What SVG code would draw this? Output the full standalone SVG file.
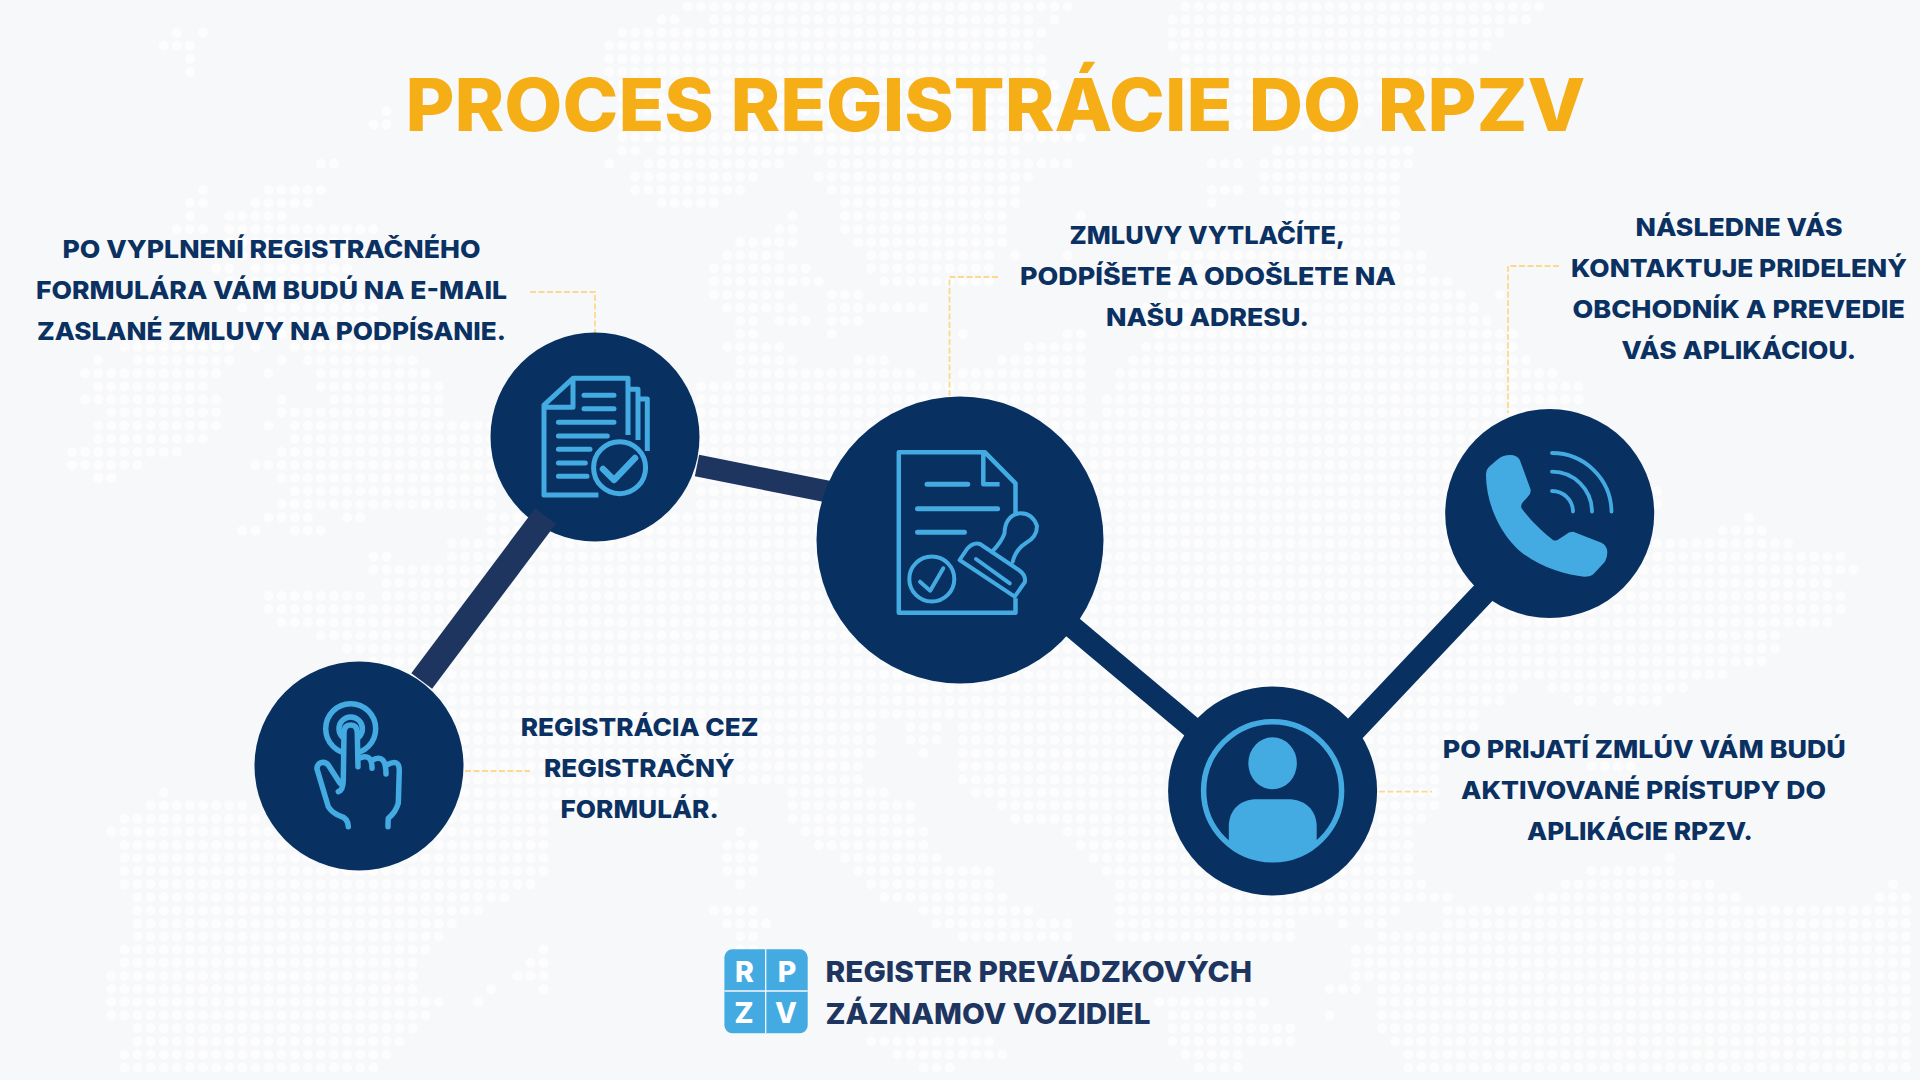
<svg xmlns="http://www.w3.org/2000/svg" width="1920" height="1080" viewBox="0 0 1920 1080">
<style>
.t{font-family:"Inter","Liberation Sans",sans-serif;font-weight:800;font-size:25px;fill:#0a3161}
.h{font-size:73px;fill:#f6ae17}
.g{font-size:29px;fill:#1e3560}
.w{font-size:28.5px;fill:#fff;text-anchor:middle}
.n{fill:#083061}
.s{fill:none;stroke:#44abe2;stroke-linecap:round;stroke-linejoin:round}
.f{fill:#44abe2}
.l{fill:none;stroke:#fbd98e;stroke-width:1.8;stroke-dasharray:6 2.5}
.c1{fill:none;stroke:#1e3560}
.c2{fill:none;stroke:#083061}
</style>
<rect width="1920" height="1080" fill="#f7f8fa"/>
<g id="map" transform="translate(6.5 6.5) scale(13.1)">
<path fill="none" stroke="#fdfdfe" stroke-width=".76" stroke-linecap="round" stroke-dasharray=".001 .999" d="
M52 0H81.1M90 0H117.1
M50 1H51.1M54 1H78.1M80 1h.1M89 1H116.1
M13 2h.1M15 2h.1M47 2H79.1M89 2H114.1
M12 3H14.1M46 3H78.1M89 3H113.1
M14 4h.1M46 4H79.1M90 4H112.1
M14 5h.1M46 5H79.1M90 5H110.1
M46 6H80.1M90 6H108.1
M47 7H80.1M91 7H106.1
M29 8h.1M47 8H81.1M92 8H104.1
M28 9H29.1M47 9H81.1M94 9H103.1
M47 10H82.1M100 10H102.1
M47 11H48.1M50 11H60.1M62 11H77.1M97 11H107.1
M24 12H25.1M46 12h.1M49 12H59.1M63 12H81.1M92 12H94.1M96 12H107.1
M48 13H57.1M62 13H78.1M96 13H106.1
M15 14h.1M20 14H24.1M48 14H56.1M63 14H77.1M92 14H94.1M96 14H106.1
M14 15H15.1M19 15H23.1M50 15H54.1M64 15H77.1M92 15h.1M98 15H106.1
M14 16h.1M17 16H21.1M60 16h.1M64 16H76.1M82 16h.1M98 16H106.1
M13 17H15.1M17 17H28.1M59 17H60.1M64 17H76.1M82 17h.1M97 17H106.1
M17 18H26.1M56 18H60.1M65 18H76.1M95 18H106.1
M18 19H26.1M55 19H59.1M66 19H75.1M77 19h.1M81 19h.1M89 19H108.1
M16 20H17.1M19 20H26.1M54 20H61.1M66 20H75.1M89 20H108.1
M17 21H26.1M54 21H62.1M67 21H75.1M89 21H110.1
M18 22H27.1M54 22H59.1M63 22H65.1M89 22H111.1M114 22h.1
M18 23h.1M20 23H28.1M55 23H60.1M63 23H70.1M87 23H112.1
M20 24H28.1M56 24H57.1M59 24H61.1M63 24H65.1M87 24H113.1
M13 25H17.1M21 25H29.1M56 25H57.1M63 25h.1M73 25h.1M81 25H82.1M88 25H115.1
M9 26H17.1M19 26h.1M22 26H29.1M55 26H59.1M78 26H82.1M87 26H115.1
M7 27h.1M10 27H17.1M21 27h.1M23 27H31.1M56 27H60.1M65 27H67.1M76 27H82.1M86 27H116.1
M6 28H16.1M20 28h.1M24 28H32.1M56 28H69.1M73 28H82.1M85 28H118.1
M7 29H15.1M24 29H33.1M53 29H82.1M85 29H120.1
M6 30H16.1M21 30h.1M25 30H33.1M53 30H82.1M84 30H120.1
M8 31H16.1M21 31H33.1M53 31H82.1M84 31H119.1
M7 32H16.1M20 32h.1M22 32H37.1M53 32H120.1
M7 33H15.1M22 33H37.1M53 33H121.1
M5 34H13.1M21 34H37.1M53 34H121.1
M5 35H10.1M19 35H37.1M53 35H121.1
M7 36H8.1M21 36H37.1M53 36H122.1
M22 37H37.1M53 37H126.1
M21 38H37.1M53 38H126.1
M20 39H23.1M26 39H27.1M37 39H122.1M133 39h.1
M18 40H19.1M22 40H24.1M37 40H122.1M131 40H134.1
M34 41H136.1
M28 42H29.1M34 42H140.1
M28 43H141.1
M29 44H139.1
M20 45H27.1M29 45H140.1
M20 46H140.1
M21 47H139.1
M24 48H135.1
M26 49H135.1
M28 50H134.1
M30 51H131.1
M33 52H115.1M118 52H128.1
M34 53H114.1M120 53H121.1M123 53H126.1
M34 54H112.1
M34 55H66.1M69 55H71.1M73 55H112.1
M34 56H66.1M69 56H71.1M73 56H111.1
M34 57H66.1M70 57h.1M73 57H110.1
M34 58H65.1M73 58H109.1M121 58H124.1
M34 59H65.1M73 59H109.1
M12 60h.1M34 60H54.1M60 60H67.1M74 60H109.1
M11 61H18.1M34 61H54.1M60 61H69.1M76 61H109.1
M9 62H19.1M34 62H41.1M60 62H69.1M77 62H108.1
M8 63H41.1M56 63h.1M61 63H70.1M81 63H107.1
M9 64H41.1M55 64H57.1M62 64H70.1M82 64H107.1
M9 65H41.1M55 65H57.1M64 65H71.1M83 65H107.1M127 65h.1
M9 66H41.1M55 66H57.1M65 66H75.1M84 66H107.1M121 66H127.1
M9 67H40.1M56 67h.1M66 67H75.1M85 67H108.1M119 67H130.1M144 67h.1
M10 68H38.1M67 68H76.1M85 68H110.1M117 68H132.1M143 68H145.1
M10 69H36.1M54 69H57.1M70 69H78.1M85 69H106.1M110 69H145.1
M10 70H34.1M55 70H58.1M71 70H81.1M85 70H98.1M102 70h.1M104 70H105.1M110 70H145.1
M10 71H33.1M56 71H57.1M73 71H81.1M85 71H98.1M105 71H145.1
M9 72H32.1M41 72h.1M56 72H57.1M103 72H145.1
M9 73H31.1M40 73H41.1M103 73H145.1
M8 74H31.1M39 74H41.1M103 74H145.1
M8 75H31.1M37 75h.1M41 75h.1M101 75H103.1M105 75H145.1
M8 76H33.1M36 76h.1M88 76H96.1M105 76H145.1
M8 77H32.1M89 77H95.1M101 77h.1M105 77H145.1
M10 78H31.1M89 78H98.1M105 78H145.1
M10 79H30.1M66 79H75.1M89 79H98.1M106 79H145.1
M9 80H29.1M68 80H76.1M90 80H94.1M107 80H145.1
M9 81H28.1M70 81H72.1M91 81H94.1M107 81H145.1"/>
</g>
<g id="leaders">
<path class="l" d="M530 292H595V333"/>
<path class="l" d="M998 277H949.5V396"/>
<path class="l" d="M1559 266H1508V413"/>
<path class="l" d="M465 771H530"/>
<path class="l" d="M1379 791.7H1432"/>
</g>
<g id="node-docs">
<circle class="n" cx="595" cy="437" r="104.5"/>
<g class="s" stroke-width="5">
<path d="M598.4 495H544V405L573 378.3H628V435M573 378.3V407.3H544M629 389.3H638V440M639 399H647.3V451" stroke-linecap="butt"/>
<path d="M584 395.3H614M584 408.7H614M558.4 422.3H614M558.4 436H607.3M558.4 449.3H590M558.4 463H585.3M558.4 476.3H587"/>
</g>
<circle cx="619.6" cy="467.7" r="26" fill="#083061" stroke="#44abe2" stroke-width="5"/>
<path class="s" stroke-width="6.5" stroke-linecap="butt" stroke-linejoin="miter" d="M603 469L614 480L635 458"/>
</g>
<g id="connectors">
<path class="c1" stroke-width="26" d="M545.5 516L421.7 681"/>
<path class="c1" stroke-width="22" d="M697 465.5L830 492"/>
<path class="c2" stroke-width="22" d="M1070 625L1195 730"/>
<path class="c2" stroke-width="24" d="M1350 734L1490 586"/>
</g>
<g id="node-hand">
<circle class="n" cx="359" cy="766" r="104.5"/>
<g class="s" stroke-width="5.5">
<circle cx="350.7" cy="728.7" r="25"/>
<circle cx="350.7" cy="728.7" r="11.7"/>
<path fill="#083061" d="M338.3 791.7Q343.3 790 343.3 780L344 733Q344 725 350.7 725Q357.3 725 357.3 733L358 766.7L358 790Z" stroke="none"/>
<path d="M338.3 791.7Q343.3 790 343.3 780L344 733Q344 725 350.7 725Q357.3 725 357.3 733L358 766.7M360 758Q372 753 372 768.3M372.7 760Q386 753 386 774M386.7 765Q399 758 399.3 770L398.3 803Q396 812 388.3 818.3Q388 822 388 826.7M340 783.3L328.3 765Q325 761 320 763Q316 766 317.3 770L328.3 806.7Q332 813 340 816Q348 818 348.3 826.7"/>
</g>
</g>
<g id="node-stamp">
<circle class="n" cx="960" cy="540" r="143.5"/>
<g class="s" stroke-width="4.5">
<path stroke-linecap="butt" d="M1015.5 513V483.3L985 452.3H898.8V612.7H1015.5V598.3M983.3 452.3V484.3H999.6"/>
<path stroke-width="5" d="M927 484.3H967.8M917.5 508.7H997.6M917.5 532.3H964.5"/>
<circle cx="931.8" cy="579" r="22.5" stroke-width="4"/>
<path stroke-width="4" d="M920 581.7L930.2 590.7L943.3 568.3"/>
<path stroke-width="4" fill="#083061" d="M959.6 560L967 549Q973 542 980 544L1018.8 570Q1026 575 1024.9 582L1014.7 596.7Z"/>
<path stroke-width="4" d="M976 559L1009.8 583.3"/>
<path stroke-width="4" d="M992.2 551.7Q1002 541 1004.5 533.3Q1005 517 1018 513.5Q1032 512 1037 526Q1037 537 1026 543Q1016 549 1012.7 561.7"/>
</g>
</g>
<g id="node-person">
<circle class="n" cx="1272.6" cy="791" r="104.5"/>
<circle class="s" cx="1272.6" cy="790.7" r="69" stroke-width="5.5"/>
<ellipse class="f" cx="1272.6" cy="763.3" rx="24.3" ry="26"/>
<path class="f" d="M1228.8 846V826.7C1228.8 810 1240 799.3 1257 799.3H1288C1305 799.3 1316.7 810 1316.7 826.7V846A71 71 0 0 1 1228.8 846Z"/>
</g>
<g id="node-phone">
<circle class="n" cx="1549.7" cy="513.5" r="104.5"/>
<path class="f" d="M1486 475Q1486 469 1490 466L1498.1 459Q1503 455 1510.2 455Q1517 455 1519.8 460L1530.2 488.3Q1532 493 1527.4 497.3L1523 502Q1519.5 506 1522.5 509.5Q1531 521 1541.2 530Q1547 535.5 1553 540Q1556 541.5 1559 539L1565.3 535Q1569 531.5 1573.2 531.7L1601.4 542.7Q1607 545.5 1607.3 551.7Q1607.5 557 1604.9 561.7L1594 573.5Q1591 576.7 1584.2 576.7C1565 575 1533 565 1515.3 546.7C1497 528 1486 500 1486 475Z"/>
<path class="s" stroke-width="3.8" d="M1552 453A59.5 59.5 0 0 1 1611.5 511.5M1552 471.7A40 40 0 0 1 1592 511.5M1552 491A21 21 0 0 1 1573 511.5"/>
</g>
<g id="title"><text class="t h" x="405.5" y="131" textLength="1180" lengthAdjust="spacingAndGlyphs">PROCES REGISTRÁCIE DO RPZV</text></g>
<g id="labels">
<text class="t" x="62.5" y="257.5" textLength="418" lengthAdjust="spacingAndGlyphs">PO VYPLNENÍ REGISTRAČNÉHO</text>
<text class="t" x="36" y="298.7" textLength="471" lengthAdjust="spacingAndGlyphs">FORMULÁRA VÁM BUDÚ NA E-MAIL</text>
<text class="t" x="37" y="340" textLength="469" lengthAdjust="spacingAndGlyphs">ZASLANÉ ZMLUVY NA PODPÍSANIE.</text>
<text class="t" x="1069.5" y="243.8" textLength="275.5" lengthAdjust="spacingAndGlyphs">ZMLUVY VYTLAČÍTE,</text>
<text class="t" x="1020" y="284.8" textLength="376" lengthAdjust="spacingAndGlyphs">PODPÍŠETE A ODOŠLETE NA</text>
<text class="t" x="1106" y="325.8" textLength="203" lengthAdjust="spacingAndGlyphs">NAŠU ADRESU.</text>
<text class="t" x="1635.5" y="236" textLength="207" lengthAdjust="spacingAndGlyphs">NÁSLEDNE VÁS</text>
<text class="t" x="1571" y="277" textLength="336" lengthAdjust="spacingAndGlyphs">KONTAKTUJE PRIDELENÝ</text>
<text class="t" x="1572.5" y="317.5" textLength="332.5" lengthAdjust="spacingAndGlyphs">OBCHODNÍK A PREVEDIE</text>
<text class="t" x="1621.5" y="358.5" textLength="234.5" lengthAdjust="spacingAndGlyphs">VÁS APLIKÁCIOU.</text>
<text class="t" x="520.7" y="735.6" textLength="237.8" lengthAdjust="spacingAndGlyphs">REGISTRÁCIA CEZ</text>
<text class="t" x="544" y="776.6" textLength="190.6" lengthAdjust="spacingAndGlyphs">REGISTRAČNÝ</text>
<text class="t" x="560.5" y="817.5" textLength="158.2" lengthAdjust="spacingAndGlyphs">FORMULÁR.</text>
<text class="t" x="1442.8" y="757.6" textLength="403" lengthAdjust="spacingAndGlyphs">PO PRIJATÍ ZMLÚV VÁM BUDÚ</text>
<text class="t" x="1461" y="799" textLength="365" lengthAdjust="spacingAndGlyphs">AKTIVOVANÉ PRÍSTUPY DO</text>
<text class="t" x="1527" y="840" textLength="225.8" lengthAdjust="spacingAndGlyphs">APLIKÁCIE RPZV.</text>
</g>
<g id="logo">
<rect class="f" x="724.4" y="949.3" width="83.3" height="84" rx="8"/>
<path d="M765.7 949.3V1033.3M724.4 991H807.7" stroke="#f7f8fa" stroke-width="1.3"/>
<text class="t w" x="744.4" y="981.7">R</text>
<text class="t w" x="787" y="981.7">P</text>
<text class="t w" x="744" y="1023.3">Z</text>
<text class="t w" x="786" y="1023.3">V</text>
<text class="t g" x="825.5" y="981.7" textLength="426.5" lengthAdjust="spacingAndGlyphs">REGISTER PREVÁDZKOVÝCH</text>
<text class="t g" x="825.5" y="1024" textLength="325" lengthAdjust="spacingAndGlyphs">ZÁZNAMOV VOZIDIEL</text>
</g>
</svg>
